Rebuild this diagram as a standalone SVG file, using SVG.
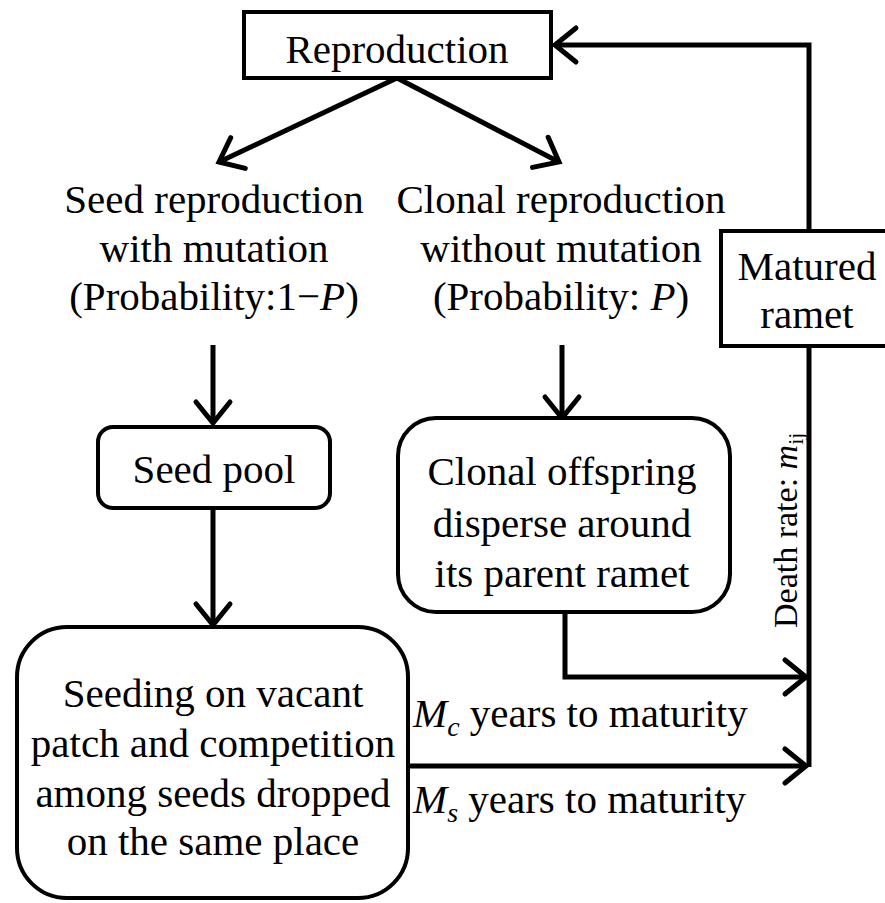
<svg xmlns="http://www.w3.org/2000/svg" width="885" height="903" viewBox="0 0 885 903">
  <style>
    .t { font-family: 'Liberation Serif', 'Times New Roman', serif; font-size: 41px; fill: #000; }
    .c { text-anchor: middle; }
    .i { font-style: italic; }
    .sm { font-size: 34px; }
    .box { fill: #fff; stroke: #000; stroke-width: 4; }
    .ln { fill: none; stroke: #000; stroke-width: 5; }
  </style>
  <defs>
    <marker id="arr" markerUnits="userSpaceOnUse" viewBox="-26 -22 30 44" refX="0" refY="0" markerWidth="30" markerHeight="44" orient="auto" overflow="visible">
      <path d="M -21 -17 L 0 0 L -21 17" fill="none" stroke="#000" stroke-width="5" stroke-linecap="round" stroke-linejoin="miter"/>
    </marker>
  </defs>

  <g id="connectors">
    <path class="ln" d="M 809 767 V 45 H 555" marker-end="url(#arr)"/>
    <path class="ln" d="M 397 78 L 219 162" marker-end="url(#arr)"/>
    <path class="ln" d="M 397 78 L 559 162" marker-end="url(#arr)"/>
    <path class="ln" d="M 213 345 V 423" marker-end="url(#arr)"/>
    <path class="ln" d="M 562 345 V 418" marker-end="url(#arr)"/>
    <path class="ln" d="M 213 508 V 625" marker-end="url(#arr)"/>
    <path class="ln" d="M 565 612 V 677 H 806" marker-end="url(#arr)"/>
    <path class="ln" d="M 408 766 H 806" marker-end="url(#arr)"/>
    <text class="t" x="413" y="727"><tspan class="i">M</tspan><tspan class="i" font-size="28" dy="9">c</tspan><tspan dy="-9"> years to maturity</tspan></text>
    <text class="t" x="413" y="813"><tspan class="i">M</tspan><tspan class="i" font-size="28" dy="9">s</tspan><tspan dy="-9"> years to maturity</tspan></text>
    <text class="t sm" transform="translate(797 628) rotate(-90)">Death rate: <tspan class="i">m</tspan><tspan font-size="22" dy="6">ij</tspan></text>
  </g>

  <g id="reproduction">
    <rect class="box" x="244" y="12" width="307" height="66" stroke-width="3"/>
    <text class="t c" x="397" y="63">Reproduction</text>
  </g>

  <g id="seed-reproduction">
    <text class="t c" x="214" y="213">Seed reproduction</text>
    <text class="t c" x="214" y="262">with mutation</text>
    <text class="t c" x="214" y="310">(Probability:1−<tspan class="i">P</tspan>)</text>
  </g>

  <g id="clonal-reproduction">
    <text class="t c" x="561" y="213">Clonal reproduction</text>
    <text class="t c" x="561" y="262">without mutation</text>
    <text class="t c" x="561" y="310">(Probability: <tspan class="i">P</tspan>)</text>
  </g>

  <g id="matured-ramet">
    <rect class="box" x="721" y="231" width="180" height="115"/>
    <text class="t c" x="807" y="280">Matured</text>
    <text class="t c" x="807" y="328">ramet</text>
  </g>

  <g id="seed-pool">
    <rect class="box" x="98" y="427" width="232" height="81" rx="15"/>
    <text class="t c" x="214" y="483">Seed pool</text>
  </g>

  <g id="clonal-offspring">
    <rect class="box" x="398" y="418" width="332" height="194" rx="38" stroke-width="5"/>
    <text class="t c" x="562" y="485">Clonal offspring</text>
    <text class="t c" x="562" y="537">disperse around</text>
    <text class="t c" x="562" y="587">its parent ramet</text>
  </g>

  <g id="seeding">
    <rect class="box" x="17" y="627" width="391" height="271" rx="50" stroke-width="5"/>
    <text class="t c" x="213" y="707">Seeding on vacant</text>
    <text class="t c" x="213" y="757">patch and competition</text>
    <text class="t c" x="213" y="807">among seeds dropped</text>
    <text class="t c" x="213" y="855">on the same place</text>
  </g>
</svg>
